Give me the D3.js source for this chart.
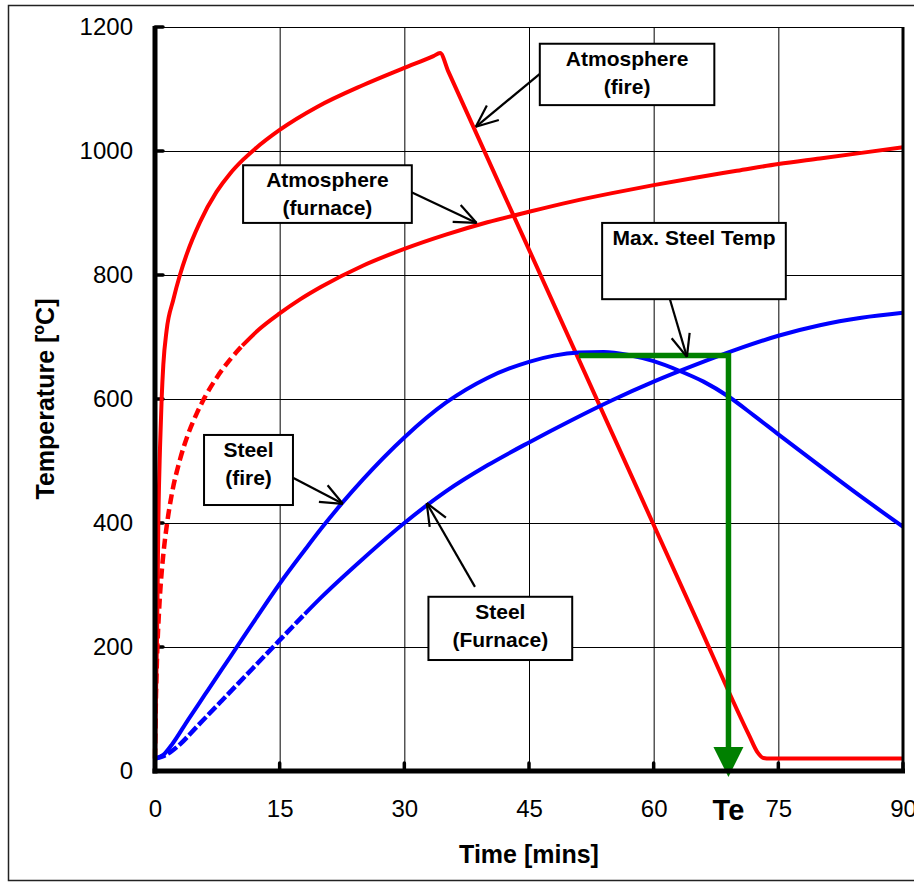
<!DOCTYPE html>
<html>
<head>
<meta charset="utf-8">
<script src="https://cdn.jsdelivr.net/npm/d3@7"></script>
<style>
  body { margin: 0; background: #fff; }
  svg { display: block; font-family: Arial, "Liberation Sans", sans-serif; }
</style>
</head>
<body>
<div id="chart"></div>
<script>
// axis ticks
const xTicks = [0, 15, 30, 45, 60, 75, 90];
const yTicks = [0, 200, 400, 600, 800, 1000, 1200];

// Atmosphere (furnace) - standard furnace curve
const furnaceTime = [0, 0.1, 0.25, 0.5, 0.75, 1, 1.5, 2, 3, 4, 5, 6, 7.5, 9, 10.5, 12.5, 15, 17.5, 20, 25, 30, 35, 40, 45, 50, 55, 60, 65, 70, 75, 80, 85, 90];
const furnaceTemp = [20, 108, 185, 261, 312, 349, 404, 445, 502, 544, 576, 603, 636, 663, 686, 712, 738, 761, 781, 815, 842, 865, 885, 902, 918, 932, 945, 957, 968, 979, 988, 997, 1006];

// Atmosphere (fire)
const fireTime = [0, 0.1, 0.25, 0.4, 0.6, 0.8, 1.0, 1.4, 2.2, 3, 3.8, 5.4, 7.4, 9, 10.6, 12, 15, 19.5, 25, 30, 33.5, 34.3, 35.3, 45, 55, 65, 71.5, 72.5, 73.2, 74, 90];
const fireTemp = [20, 110, 220, 400, 520, 600, 655, 711, 760, 800, 833, 885, 934, 963, 986, 1003, 1034, 1071, 1106, 1134, 1153, 1158, 1128, 841, 545, 249, 57, 30, 21, 20, 20];

// Steel (fire)
const steelFireTime = [0, 1, 2, 4, 6, 8, 10, 12, 15, 18, 20, 22.5, 25, 30, 35, 40, 45, 48, 51, 54, 57, 60, 63, 66, 69, 72, 75, 80, 85, 90];
const steelFireTemp = [20, 26, 42, 83, 123, 163, 203, 243, 302, 356, 391, 432, 470, 538, 594, 634, 660, 670, 675, 676, 671, 661, 646, 628, 604, 574, 543, 492, 442, 394];

// Steel (furnace)
const steelFurnTime = [0, 1, 2, 3, 5, 8, 10, 12, 15, 18, 20, 25, 30, 35, 40, 45, 50, 55, 60, 65, 70, 75, 80, 85, 90];
const steelFurnTemp = [20, 24, 32, 43, 71, 113, 141, 169, 211, 253, 280, 342, 400, 451, 493, 530, 565, 598, 628, 655, 680, 702, 719, 731, 739];

// max steel temperature and the time it is reached on the furnace curve
const maxSteel = { tStart: 51.0, T: 670, te: 69.0 };

const W = 914, H = 884;
const svg = d3.select('#chart').append('svg').attr('width', W).attr('height', H);

// outer frame
svg.append('rect')
  .attr('x', 8.5).attr('y', 5.5).attr('width', 930).attr('height', 875)
  .attr('fill', 'none').attr('stroke', '#222').attr('stroke-width', 1.5);

const x = d3.scaleLinear().domain([0, 90]).range([155, 903]);
const y = d3.scaleLinear().domain([0, 1200]).range([771, 27]);

// grid + tick labels
const gy = svg.append('g')
  .attr('transform', `translate(${x(0)},0)`)
  .call(d3.axisLeft(y).tickValues(yTicks).tickFormat(d3.format('d'))
    .tickSize(-(x(90) - x(0))).tickPadding(22));
const gx = svg.append('g')
  .attr('transform', `translate(0,${y(0)})`)
  .call(d3.axisBottom(x).tickValues(xTicks).tickFormat(d3.format('d'))
    .tickSize(-(y(0) - y(1200))).tickPadding(29));

[gx, gy].forEach(g => {
  g.select('.domain').remove();
  g.selectAll('.tick line').attr('stroke', '#000').attr('stroke-width', 1);
  g.selectAll('.tick text')
    .attr('font-size', 24).attr('fill', '#000')
    .attr('font-family', 'Arial, "Liberation Sans", sans-serif');
});

// short thick inner tick marks
yTicks.forEach(v => {
  svg.append('line').attr('x1', x(0)).attr('x2', x(0) + 8)
    .attr('y1', y(v)).attr('y2', y(v))
    .attr('stroke', '#000').attr('stroke-width', 3.5).attr('stroke-linecap', 'round');
});
xTicks.forEach(v => {
  svg.append('line').attr('x1', x(v)).attr('x2', x(v))
    .attr('y1', y(0)).attr('y2', y(0) - 8)
    .attr('stroke', '#000').attr('stroke-width', 3.5).attr('stroke-linecap', 'round');
});

// series
const line = d3.line()
  .x(d => x(d[0])).y(d => y(d[1]))
  .curve(d3.curveMonotoneX);

function pairs(ts, vs) { return ts.map((t, i) => [t, vs[i]]); }

function drawSeries(data, color, dashUntil, dash) {
  if (dashUntil != null) {
    const a = data.filter(d => d[0] <= dashUntil);
    const b = data.filter(d => d[0] >= dashUntil);
    svg.append('path').attr('d', line(a)).attr('fill', 'none')
      .attr('stroke', color).attr('stroke-width', 4.5).attr('stroke-dasharray', dash);
    svg.append('path').attr('d', line(b)).attr('fill', 'none')
      .attr('stroke', color).attr('stroke-width', 4).attr('stroke-linejoin', 'round');
  } else {
    svg.append('path').attr('d', line(data)).attr('fill', 'none')
      .attr('stroke', color).attr('stroke-width', 4).attr('stroke-linejoin', 'round');
  }
}

drawSeries(pairs(furnaceTime, furnaceTemp), '#ff0000', 10.5, '10,5');
drawSeries(pairs(fireTime, fireTemp), '#ff0000');
drawSeries(pairs(steelFurnTime, steelFurnTemp), '#0000ff', 18, '11,3');
drawSeries(pairs(steelFireTime, steelFireTemp), '#0000ff');

// green max steel temperature line and arrow to Te
const green = '#008000';
svg.append('path')
  .attr('d', `M${x(maxSteel.tStart)},${y(maxSteel.T)} H${x(maxSteel.te)} V${y(0) - 24}`)
  .attr('fill', 'none').attr('stroke', green).attr('stroke-width', 5.5);
svg.append('path')
  .attr('d', `M${x(maxSteel.te) - 15},${y(0) - 24} L${x(maxSteel.te) + 15},${y(0) - 24} L${x(maxSteel.te)},${y(0) + 6} Z`)
  .attr('fill', green);

// axes
svg.append('line').attr('x1', x(0)).attr('x2', x(0)).attr('y1', y(1200) - 1).attr('y2', y(0) + 2.5)
  .attr('stroke', '#000').attr('stroke-width', 5);
svg.append('line').attr('x1', x(0) - 2.5).attr('x2', x(90) + 2).attr('y1', y(0)).attr('y2', y(0))
  .attr('stroke', '#000').attr('stroke-width', 5);
svg.append('line').attr('x1', x(90)).attr('x2', x(90)).attr('y1', y(1200)).attr('y2', y(0))
  .attr('stroke', '#000').attr('stroke-width', 3);

// Te label
svg.append('text')
  .attr('x', x(maxSteel.te)).attr('y', 820)
  .attr('text-anchor', 'middle').attr('font-size', 29).attr('font-weight', 'bold')
  .text('Te');

// axis titles
svg.append('text')
  .attr('x', (x(0) + x(90)) / 2).attr('y', 863)
  .attr('text-anchor', 'middle').attr('font-size', 25).attr('font-weight', 'bold')
  .text('Time [mins]');
const yt = svg.append('text')
  .attr('transform', `translate(54,${(y(0) + y(1200)) / 2}) rotate(-90)`)
  .attr('text-anchor', 'middle').attr('font-size', 25).attr('font-weight', 'bold');
yt.append('tspan').text('Temperature [');
yt.append('tspan').attr('font-size', 16).attr('dy', -10).text('o');
yt.append('tspan').attr('dy', 10).text('C]');

// annotations (boxes and arrows in data units)
const annotations = [
  { lines: ['Atmosphere', '(fire)'], box: [46.3, 67.3, 1173, 1074], from: [46.45, 1126], to: [38.6, 1039] },
  { lines: ['Atmosphere', '(furnace)'], box: [10.6, 30.9, 977, 884], from: [30.8, 934], to: [38.7, 884] },
  { lines: ['Max. Steel Temp'], box: [53.8, 75.9, 884, 761], from: [61.6, 777], to: [64.0, 668] },
  { lines: ['Steel', '(fire)'], box: [5.9, 16.6, 542, 429], from: [16.6, 473], to: [22.6, 431] },
  { lines: ['Steel', '(Furnace)'], box: [32.9, 50.2, 281, 179], from: [38.5, 297], to: [32.7, 432] }
];

function arrow(x1, y1, x2, y2) {
  const g = svg.append('g').attr('stroke', '#000').attr('stroke-width', 2.2).attr('fill', 'none');
  g.append('line').attr('x1', x1).attr('y1', y1).attr('x2', x2).attr('y2', y2);
  const ang = Math.atan2(y1 - y2, x1 - x2);
  const len = 24, spread = 23 * Math.PI / 180;
  [-spread, spread].forEach(s => {
    g.append('line').attr('x1', x2).attr('y1', y2)
      .attr('x2', x2 + len * Math.cos(ang + s)).attr('y2', y2 + len * Math.sin(ang + s));
  });
}

annotations.forEach(a => {
  const [t0, t1, T0, T1] = a.box;
  const bx = x(t0), by = y(T0), bw = x(t1) - x(t0), bh = y(T1) - y(T0);
  arrow(x(a.from[0]), y(a.from[1]), x(a.to[0]), y(a.to[1]));
  svg.append('rect').attr('x', bx).attr('y', by).attr('width', bw).attr('height', bh)
    .attr('fill', '#fff').attr('stroke', '#000').attr('stroke-width', 2);
  a.lines.forEach((s, i) => {
    svg.append('text')
      .attr('x', bx + bw / 2).attr('y', by + 22 + i * 28)
      .attr('text-anchor', 'middle').attr('font-size', 21).attr('font-weight', 'bold')
      .text(s);
  });
});
</script>
</body>
</html>
